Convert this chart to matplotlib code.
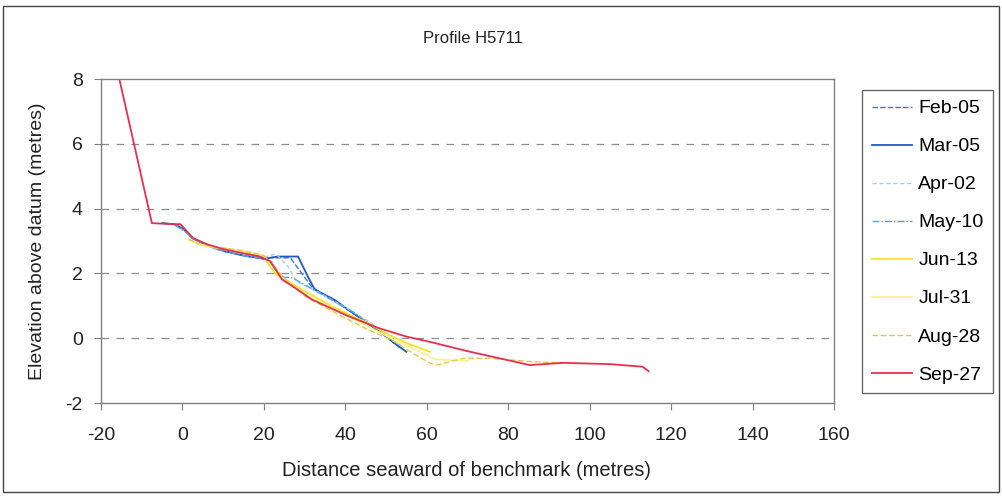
import matplotlib
matplotlib.use("Agg")
import matplotlib.pyplot as plt
from matplotlib.patches import Rectangle

plt.rcParams['font.family'] = ['Liberation Sans', 'DejaVu Sans']
plt.rcParams['axes.unicode_minus'] = False

# Beach profile surveys: distance seaward of benchmark (m) vs elevation (m)
labels = ["Feb-05", "Mar-05", "Apr-02", "May-10", "Jun-13", "Jul-31", "Aug-28", "Sep-27"]

feb_x = [-5, -2, 0.5, 2.5, 6, 10, 15, 20, 21, 26.5, 29.3, 31.7, 36, 44, 50, 54]
feb_y = [3.55, 3.52, 3.33, 3.08, 2.86, 2.68, 2.55, 2.45, 2.48, 2.48, 2.0, 1.59, 1.25, 0.6, 0.05, -0.35]

mar_x = [-5, -2, 0.5, 2.5, 6, 10, 15, 20, 22.3, 23.5, 28.4, 30.8, 32.5, 37.4, 43.6, 49, 52, 55]
mar_y = [3.55, 3.52, 3.35, 3.08, 2.88, 2.7, 2.55, 2.45, 2.5, 2.52, 2.52, 1.9, 1.5, 1.18, 0.62, 0.15, -0.15, -0.42]

apr_x = [-2, 0.5, 3, 8, 15, 20, 23, 26, 28, 33, 40, 46, 50, 54.5]
apr_y = [3.5, 3.3, 3.05, 2.78, 2.6, 2.5, 2.6, 2.2, 1.75, 1.45, 0.95, 0.5, 0.1, -0.3]

may_x = [-2, 0.5, 3, 8, 15, 20, 22, 24, 27, 30, 35, 42, 48, 53]
may_y = [3.5, 3.3, 3.05, 2.75, 2.55, 2.45, 2.35, 1.9, 1.86, 1.65, 1.3, 0.8, 0.25, -0.2]

jun_x = [1.5, 4, 8, 15, 20, 22.7, 26, 30, 38, 45, 50, 55, 60.8]
jun_y = [3.05, 2.9, 2.8, 2.68, 2.5, 2.0, 1.75, 1.45, 0.9, 0.5, 0.15, -0.15, -0.42]

jul_x = [1.5, 4, 8, 15, 20, 22, 25, 30, 38, 45, 52, 58, 62, 70]
jul_y = [3.05, 2.9, 2.8, 2.68, 2.55, 2.25, 1.8, 1.35, 0.85, 0.4, -0.05, -0.4, -0.65, -0.7]

aug_x = [1.5, 4, 8, 15, 20, 22, 25, 30, 38, 45, 52, 57, 60.8, 62.4, 69, 75.5, 85.3, 93.4]
aug_y = [3.05, 2.92, 2.82, 2.7, 2.55, 2.3, 1.85, 1.3, 0.75, 0.3, -0.1, -0.5, -0.77, -0.83, -0.62, -0.62, -0.72, -0.77]

sep_x = [-15.5, -7.5, -2, -0.5, 0.8, 2.6, 6, 10, 15, 19, 21.5, 23.5, 24.4, 28.4, 31.7,
         40, 48, 55, 61, 70, 85.3, 93.4, 105, 113, 114.5]
sep_y = [8.0, 3.55, 3.52, 3.52, 3.34, 3.09, 2.9, 2.75, 2.62, 2.52, 2.38, 2.0, 1.82, 1.49, 1.2,
         0.72, 0.32, 0.05, -0.12, -0.4, -0.83, -0.76, -0.8, -0.88, -1.02]

x_ticks = [-20, 0, 20, 40, 60, 80, 100, 120, 140, 160]
y_ticks = [-2, 0, 2, 4, 6, 8]

series = [
    (feb_x, feb_y, dict(color="#3f78cc", lw=1.0, ls=(0, (4, 1.5)))),
    (mar_x, mar_y, dict(color="#1f5bbf", lw=1.3, ls="-")),
    (apr_x, apr_y, dict(color="#a9cbf2", lw=1.0, ls=(0, (3, 2)))),
    (may_x, may_y, dict(color="#4fa6e6", lw=1.0, ls=(0, (5, 1.5, 1, 1.5)))),
    (jun_x, jun_y, dict(color="#f6e21a", lw=1.2, ls="-")),
    (jul_x, jul_y, dict(color="#fbf08c", lw=1.2, ls="-")),
    (aug_x, aug_y, dict(color="#efc24a", lw=1.0, ls=(0, (4, 2)))),
    (sep_x, sep_y, dict(color="#e5304f", lw=1.3, ls="-")),
]

fig = plt.figure(figsize=(10.03, 4.98), dpi=100)
ax = fig.add_axes([101 / 1003, 1 - 403 / 498, (834 - 101) / 1003, (403 - 79) / 498])

for (xs, ys, style), lab in zip(series, labels):
    ax.plot(xs, ys, label=lab, **style)

ax.set_xlim(-20, 160)
ax.set_ylim(-2, 8)
ax.set_xticks(x_ticks)
ax.set_yticks(y_ticks)
ax.tick_params(labelsize=14, colors="#222222", length=5, width=0.8)
ax.tick_params(axis="both", color="#808080")
ax.tick_params(axis="x", pad=12)
ax.tick_params(axis="y", pad=8)
for s in ax.spines.values():
    s.set_color("#808080")
    s.set_linewidth(1.0)
for yv in [0, 2, 4, 6]:
    ax.axhline(yv, color="#8c8c8c", lw=0.9, ls=(0, (6, 6)), zorder=0)

fig.text(473 / 1003, 1 - 38 / 498, "Profile H5711", ha="center", va="center", fontsize=12, color="#222222")
fig.text(467 / 1003, 1 - 470 / 498, "Distance seaward of benchmark (metres)", ha="center", va="center",
         fontsize=14.5, color="#222222")
fig.text(38 / 1003, 1 - 241 / 498, "Elevation above datum (metres)", ha="center", va="center",
         rotation=90, fontsize=14, color="#222222")

leg = fig.legend(loc="upper left", bbox_to_anchor=(862 / 1003, 1 - 90 / 498), fontsize=14,
                 frameon=True, fancybox=False, edgecolor="#444444", handlelength=2.05,
                 labelspacing=1.05, borderpad=0.5, handletextpad=0.35, borderaxespad=0)
leg.get_frame().set_linewidth(1.0)

fig.patches.append(Rectangle((3 / 1003, 1 - 492 / 498), 996 / 1003, 486 / 498, transform=fig.transFigure,
                             fill=False, edgecolor="#444444", lw=1.0))

fig.savefig("out.png", dpi=100)
